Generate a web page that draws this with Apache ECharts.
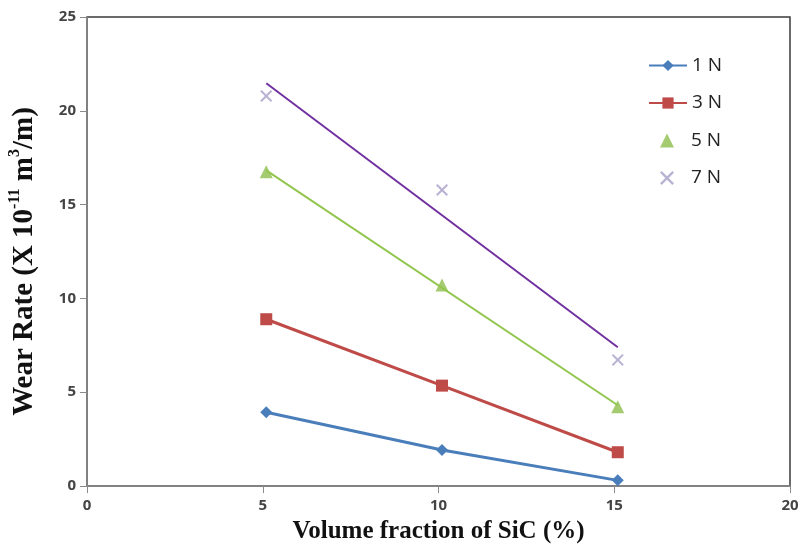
<!DOCTYPE html>
<html>
<head>
<meta charset="utf-8">
<script src="https://cdn.jsdelivr.net/npm/echarts@6/dist/echarts.min.js"></script>
<style>html,body{margin:0;padding:0;background:#fff}#c{width:798px;height:551px}</style>
</head>
<body>
<div id="c"></div>
<script>
var volumeFraction = [5.1, 10.1, 15.1];
var wear1N = [3.93, 1.92, 0.3];
var wear3N = [8.89, 5.35, 1.8];
var wear5N = [16.75, 10.71, 4.23];
var wear7N = [20.79, 15.78, 6.72];
var seriesNames = ['1 N', '3 N', '5 N', '7 N'];
var xTicks = [0, 5, 10, 15, 20];
var yTicks = [0, 5, 10, 15, 20, 25];

function pairs(xs, ys) { return xs.map(function (x, i) { return [x, ys[i]]; }); }
function linFit(xs, ys) {
  var n = xs.length, mx = 0, my = 0;
  for (var i = 0; i < n; i++) { mx += xs[i]; my += ys[i]; }
  mx /= n; my /= n;
  var sxy = 0, sxx = 0;
  for (var j = 0; j < n; j++) { sxy += (xs[j] - mx) * (ys[j] - my); sxx += (xs[j] - mx) * (xs[j] - mx); }
  var b = sxy / sxx, a = my - b * mx;
  var x0 = Math.min.apply(null, xs), x1 = Math.max.apply(null, xs);
  return [[x0, a + b * x0], [x1, a + b * x1]];
}

var xMark = 'path://M0,1.2 L1.2,0 L5,3.8 L8.8,0 L10,1.2 L6.2,5 L10,8.8 L8.8,10 L5,6.2 L1.2,10 L0,8.8 L3.8,5 Z';
var legendText = {fontFamily: 'Open Sans', fontSize: 19, color: '#222'};

var chart = echarts.init(document.getElementById('c'), null, {renderer: 'canvas'});
chart.setOption({
  animation: false,
  backgroundColor: '#fff',
  grid: {left: 87, right: 8, top: 17, bottom: 65, show: true, borderColor: '#3a3a3a', borderWidth: 1.5,
         containLabel: false, outerBoundsMode: 'none'},
  legend: [
    {orient: 'vertical', left: 648, top: 56, padding: 0, itemWidth: 38, itemHeight: 14, itemGap: 18.5,
     data: [seriesNames[0], seriesNames[1]], textStyle: legendText},
    {orient: 'vertical', left: 660, top: 131, padding: 0, itemWidth: 14, itemHeight: 14, itemGap: 18.5,
     data: [seriesNames[2], seriesNames[3]],
     textStyle: Object.assign({}, legendText, {padding: [0, 0, 0, 12]})}
  ],
  xAxis: {
    type: 'value', min: xTicks[0], max: xTicks[xTicks.length - 1], interval: 5,
    name: 'Volume fraction of SiC (%)', nameLocation: 'middle', nameGap: 33,
    nameTextStyle: {fontFamily: 'Liberation Serif', fontWeight: 'bold', fontSize: 25, color: '#111'},
    axisLine: {lineStyle: {color: '#8a8a8a', width: 1.5}},
    axisTick: {show: true, length: 7, lineStyle: {color: '#8a8a8a'}},
    axisLabel: {margin: 12, fontFamily: 'Open Sans', fontSize: 15, fontWeight: 'bold', color: '#444'},
    splitLine: {show: false}
  },
  yAxis: {
    type: 'value', min: yTicks[0], max: yTicks[yTicks.length - 1], interval: 5,
    name: '{b|Wear Rate (X 10}{s|-11}{b| m}{s|3}{b|/m)}', nameLocation: 'middle', nameGap: 48, nameRotate: 90,
    nameTextStyle: {
      padding: [0, 20, 0, 0],
      rich: {
        b: {fontFamily: 'Liberation Serif', fontWeight: 'bold', fontSize: 29, color: '#111', lineHeight: 32, verticalAlign: 'bottom'},
        s: {fontFamily: 'Liberation Serif', fontWeight: 'bold', fontSize: 16, color: '#111', lineHeight: 32, verticalAlign: 'top'}
      }
    },
    axisLine: {show: true, lineStyle: {color: '#8a8a8a', width: 1.5}},
    axisTick: {show: true, length: 7, lineStyle: {color: '#8a8a8a'}},
    axisLabel: {margin: 11, fontFamily: 'Open Sans', fontSize: 15, fontWeight: 'bold', color: '#444'},
    splitLine: {show: false}
  },
  series: [
    {name: seriesNames[0], type: 'line', data: pairs(volumeFraction, wear1N), symbol: 'diamond', symbolSize: 12,
     lineStyle: {color: '#4A7EBB', width: 3}, itemStyle: {color: '#4A7EBB'}},
    {name: seriesNames[1], type: 'line', data: pairs(volumeFraction, wear3N), symbol: 'rect', symbolSize: 12,
     lineStyle: {color: '#BE4B48', width: 3}, itemStyle: {color: '#BE4B48'}},
    {name: 'trend5', type: 'line', data: linFit(volumeFraction, wear5N), symbol: 'none',
     lineStyle: {color: '#92C64E', width: 2}, silent: true},
    {name: 'trend7', type: 'line', data: linFit(volumeFraction, wear7N), symbol: 'none',
     lineStyle: {color: '#7030A0', width: 2}, silent: true},
    {name: seriesNames[2], type: 'scatter', data: pairs(volumeFraction, wear5N), symbol: 'triangle', symbolSize: 13,
     itemStyle: {color: '#8DBE4C'}},
    {name: seriesNames[3], type: 'scatter', data: pairs(volumeFraction, wear7N), symbol: xMark, symbolSize: 12,
     itemStyle: {color: '#A89FC8'}}
  ]
});
</script>
</body>
</html>
